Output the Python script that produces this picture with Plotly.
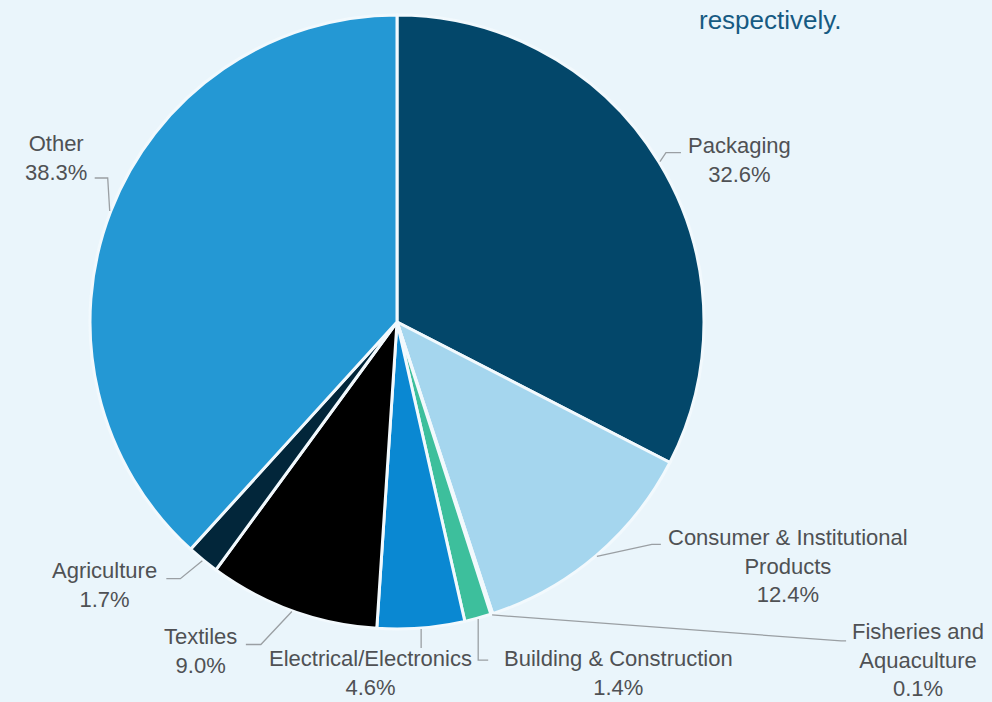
import math
import plotly.graph_objects as go

# Plastic use by sector, share of total (%)
sectors = ["Packaging", "Consumer & Institutional<br>Products", "Fisheries and<br>Aquaculture",
           "Building & Construction", "Electrical/Electronics", "Textiles", "Agriculture", "Other"]
shares = [32.6, 12.4, 0.1, 1.4, 4.6, 9.0, 1.7, 38.3]
colors = ["#03476a", "#a5d6ee", "#7fc6c9", "#3dbf9c", "#0a88d2", "#000000", "#02263a", "#2498d4"]

W, H = 992, 702
BG = "#eaf5fb"

# pie placement in pixels
CX, CY, R = 397, 322, 307

# leader-line geometry per slice: elbow offset from arc point, horizontal tail, label offset from tail end
elbow_off = [(6, -9), (55, -12), (349, 26), (0, 41), (0, 19), (-31, 33), (-22, 18), (-2, -33)]
tail_len = [15, 9, 5, 10, 0, -15, -14, -13]
label_off = [(59, 7), (127, 22), (72, 19), (130, 13), (-51, 25), (-45, 7), (-62, 6), (-39, -20)]


def px(x):
    return x / W


def py(y):
    return 1 - y / H


fig = go.Figure(go.Pie(
    labels=sectors,
    values=shares,
    sort=False,
    direction="clockwise",
    rotation=0,
    textinfo="none",
    hoverinfo="label+percent",
    marker=dict(colors=colors, line=dict(color="#f2f9fd", width=3)),
    domain=dict(x=[px(CX - R), px(CX + R)], y=[py(CY + R), py(CY - R)]),
    showlegend=False,
))

total = sum(shares)
cum = 0.0
shapes, annotations = [], []
for name, v, eo, tl, lo in zip(sectors, shares, elbow_off, tail_len, label_off):
    mid = (cum + v / 2) / total * 2 * math.pi
    cum += v
    ax = CX + (R + 1) * math.sin(mid)
    ay = CY - (R + 1) * math.cos(mid)
    ex, ey = ax + eo[0], ay + eo[1]
    tx, ty = ex + tl, ey
    path = f"M {px(ax)} {py(ay)} L {px(ex)} {py(ey)} L {px(tx)} {py(ty)}"
    shapes.append(dict(type="path", xref="paper", yref="paper", path=path,
                       line=dict(color="#9a9fa3", width=1.3)))
    annotations.append(dict(
        x=px(tx + lo[0]), y=py(ty + lo[1]), xref="paper", yref="paper",
        text=f"{name}<br>{v:.1f}%", showarrow=False, align="center",
        xanchor="center", yanchor="middle",
        font=dict(family="Liberation Sans, Arial, sans-serif", size=22, color="#4f5154"),
    ))

annotations.append(dict(
    x=px(770), y=py(20), xref="paper", yref="paper", text="respectively.",
    showarrow=False, xanchor="center", yanchor="middle",
    font=dict(family="Liberation Sans, Arial, sans-serif", size=26, color="#165a82"),
))

fig.update_layout(
    width=W, height=H,
    margin=dict(l=0, r=0, t=0, b=0),
    paper_bgcolor=BG, plot_bgcolor=BG,
    shapes=shapes, annotations=annotations,
)

fig.write_html("out.html")
